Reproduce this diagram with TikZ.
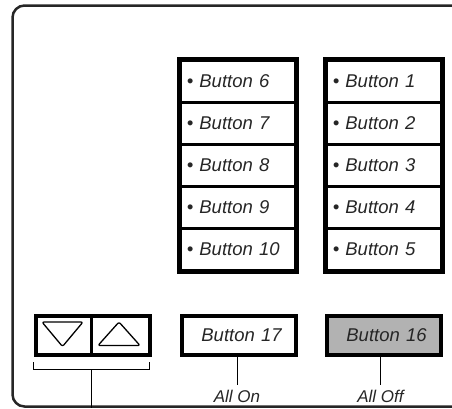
\documentclass[tikz,border=0pt]{standalone}
\usepackage{fontspec}
\setmainfont{Liberation Sans}
\begin{document}
\begin{tikzpicture}[x=1pt,y=-1pt,
  rowbox/.style={draw, line width=2.5pt, minimum height=42pt, text width=102pt, inner xsep=6.5pt, align=left, anchor=north west, font=\fontsize{18.5}{18.5}\selectfont\itshape},
  frame/.style={draw, line width=4pt},
  plainbtn/.style={draw, line width=4pt, minimum width=114pt, minimum height=39pt, anchor=north west, font=\fontsize{18.5}{18.5}\selectfont\itshape},
  lbl/.style={font=\fontsize{17}{17}\selectfont\itshape, inner sep=0pt, anchor=base},
  thin/.style={line width=0.9pt},
  tri/.style={line width=1.3pt, rounded corners=2pt, line join=round}]
\useasboundingbox (0,0) rectangle (452,408);
\clip (0,0) rectangle (452,408);
% outer frame
\draw[line width=2.5pt, rounded corners=12pt, color=black!85] (12.5,5.5) rectangle (480,406.5);
% columns
\foreach \n [count=\i from 0] in {6,7,8,9,10}{
  \node[rowbox] (l\n) at (179,59+42*\i) {\textcolor{black!85}{\textbullet\ Button \n}};
}
\foreach \n [count=\i from 0] in {1,2,3,4,5}{
  \node[rowbox] (r\n) at (325,59+42*\i) {\textcolor{black!85}{\textbullet\ Button \n}};
}
\draw[frame] (l6.north west) rectangle (l10.south east);
\draw[frame] (r1.north west) rectangle (r5.south east);
% bottom row
\node[plainbtn] (arrows) at (34,314) {};
\draw[line width=3pt] (arrows.north) ++(-1.5,0) coordinate (dtop) -- (arrows.south -| dtop);
\coordinate (d1) at (42,322); \coordinate (d2) at (83,322); \coordinate (d3) at (62.5,346.5);
\draw[tri] (d1) -- (d2) -- (d3) -- cycle;
\coordinate (u1) at (98,345.5); \coordinate (u2) at (140,345.5); \coordinate (u3) at (119,322);
\draw[tri] (u1) -- (u2) -- (u3) -- cycle;
\node[plainbtn, text width=100pt, align=center] (b17) at (180,314) {\hspace*{5pt}\textcolor{black!85}{Button 17}};
\node[plainbtn, fill=black!30, text width=100pt, align=center] (b16) at (325,314) {\hspace*{5pt}\textcolor{black!85}{Button 16}};
% bracket
\coordinate (bl) at (33,362); \coordinate (br) at (149,362);
\coordinate (stem) at (91,369.5);
\draw[thin] (bl) -- (bl |- stem) -- (br |- stem) -- (br);
\draw[thin] (stem) -- (91,408);
% labels
\node[lbl, text=black!85] (allon) at (237,402.5) {All On};
\node[lbl, text=black!85] (alloff) at (380.5,402.5) {All Off};
\draw[thin] (b17.south -| allon) -- (237,385);
\draw[thin] (b16.south -| alloff) -- (380.5,385);
\end{tikzpicture}
\end{document}
